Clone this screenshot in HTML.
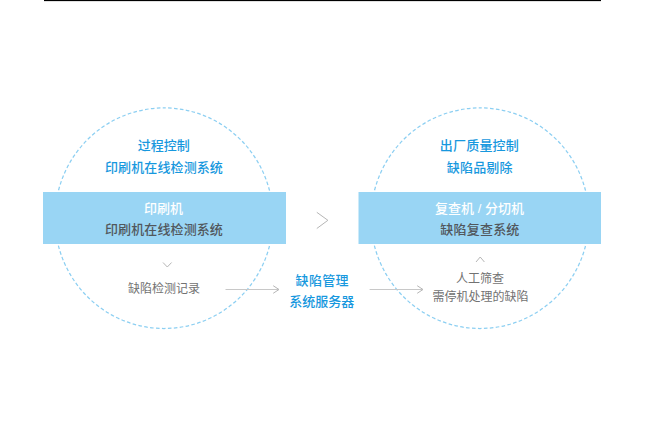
<!DOCTYPE html>
<html lang="zh-CN">
<head>
<meta charset="utf-8">
<title>缺陷管理系统服务器</title>
<style>
html,body{margin:0;padding:0;background:#fff;}
body{width:650px;height:433px;position:relative;overflow:hidden;font-family:"Liberation Sans","Noto Sans CJK SC",sans-serif;}
#art{position:absolute;left:0;top:0;width:650px;height:433px;display:block;}
#art text{font-family:"Liberation Sans","Noto Sans CJK SC",sans-serif;white-space:pre;}
</style>
</head>
<body>
<svg id="art" width="650" height="433" viewBox="0 0 650 433">
<!-- top rule -->
<rect x="44" y="0" width="557" height="1" fill="#000"/>
<rect x="44" y="1" width="557" height="1" fill="#000" opacity="0.12"/>
<!-- dashed circles (path starts at 12 o'clock so a dash is centred on the top) -->
<g fill="none" stroke="#8ccff2" stroke-width="1.25" stroke-dasharray="3.6 2.3393" stroke-dashoffset="1.8">
<path d="M164 107.9A109 110.3 0 1 1 163.99 107.9"/>
<path d="M480 107.9A109 110.3 0 1 1 479.99 107.9"/>
</g>
<!-- bands -->
<rect x="43" y="192" width="243" height="52" fill="#99d5f4"/>
<rect x="358.5" y="192" width="242.5" height="52" fill="#99d5f4"/>
<!-- chevrons and arrows -->
<g fill="none" stroke="#b6b6b6" stroke-width="1">
<polyline points="316.8,212.3 327.9,220.3 316.8,228.5"/>
<polyline points="163,262.5 167.3,267 171.6,262.5"/>
<polyline points="476,262 480.2,257 484.4,262"/>
<path stroke="#c8c8c8" d="M225.5 289.5H278.5M369.6 289.5H422.5"/>
<path d="M273.2 285.7L279 289.5L273.2 293.3M417.2 285.7L423 289.5L417.2 293.3"/>
</g>

<g id="glyphs">
<text x="137.75" y="150.46" font-size="13" font-weight="500" fill="#1798de">过程控制</text>
<text x="104.91" y="171.99" font-size="13" font-weight="500" fill="#1798de" letter-spacing="0.12">印刷机在线检测系统</text>
<text x="143.97" y="212.85" font-size="13" font-weight="500" fill="#ffffff">印刷机</text>
<text x="104.91" y="233.59" font-size="13" font-weight="500" fill="#51575c" letter-spacing="0.12">印刷机在线检测系统</text>
<text x="128.10" y="293.09" font-size="12" fill="#727272">缺陷检测记录</text>
<text x="295.58" y="284.67" font-size="13" font-weight="500" fill="#1798de" letter-spacing="0.3">缺陷管理</text>
<text x="289.28" y="305.77" font-size="13" font-weight="500" fill="#1798de">系统服务器</text>
<text x="439.82" y="150.45" font-size="13" font-weight="500" fill="#1798de" letter-spacing="0.2">出厂质量控制</text>
<text x="446.77" y="172.00" font-size="13" font-weight="500" fill="#1798de" letter-spacing="0.2">缺陷品剔除</text>
<text x="435.06" y="212.90" font-size="13" font-weight="500" fill="#ffffff">复查机 / 分切机</text>
<text x="440.37" y="233.57" font-size="13" font-weight="500" fill="#51575c" letter-spacing="0.2">缺陷复查系统</text>
<text x="455.95" y="283.29" font-size="12" fill="#727272">人工筛查</text>
<text x="432.39" y="301.08" font-size="12" fill="#727272">需停机处理的缺陷</text>
</g>
</svg>
</body>
</html>
